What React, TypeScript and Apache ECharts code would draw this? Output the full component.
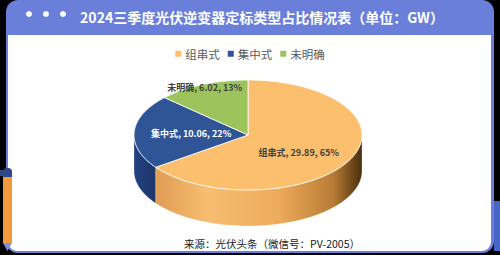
import React, { useEffect, useRef } from "react";
import * as echarts from "echarts";

const categories = ["组串式", "集中式", "未明确"];
const values = [29.89, 10.06, 6.02];
const titleText = "2024三季度光伏逆变器定标类型占比情况表（单位：GW）";
const sourceText = "来源：光伏头条（微信号：PV-2005）";

const topColors = ["#FCBF6E", "#2F5597", "#9DC35C"];
const labelColors = ["#404040", "#FFFFFF", "#404040"];
const sideStops = [
  [
    [0, "#E09C52"],
    [0.25, "#F7BE72"],
    [0.6, "#EDAA5B"],
    [0.86, "#B97C36"],
    [1, "#4A2E0C"],
  ],
  [
    [0, "#23427F"],
    [1, "#1C3669"],
  ],
  [
    [0, "#7F9F45"],
    [1, "#6A8838"],
  ],
];
const labelRadius = [0.5, 0.5, 0.95];
const labelDy = [5, 0, 0];

const CX = 248;
const CY = 135;
const RX = 114;
const RY = 55;
const DEPTH = 36;

function pt(theta: number, dy = 0): number[] {
  const r = (theta * Math.PI) / 180;
  return [CX + RX * Math.sin(r), CY - RY * Math.cos(r) + dy];
}
function arc(a: number, b: number, dy = 0): number[][] {
  const pts: number[][] = [];
  const n = Math.max(2, Math.ceil(Math.abs(b - a) / 2));
  for (let i = 0; i <= n; i++) pts.push(pt(a + ((b - a) * i) / n, dy));
  return pts;
}

const total = values.reduce((s, v) => s + v, 0);
const starts: number[] = [];
const ends: number[] = [];
{
  let acc = 0;
  values.forEach((v) => {
    starts.push((acc / total) * 360);
    acc += v;
    ends.push((acc / total) * 360);
  });
}

export default function App() {
  const ref = useRef<HTMLDivElement>(null);
  useEffect(() => {
    document.body.style.margin = "0";
    document.body.style.background = "#000";
    const chart = echarts.init(ref.current!, null, { renderer: "svg" });
    const option: any = {
      animation: false,
      backgroundColor: "#000",
      graphic: [
        {
          type: "rect",
          z: 0,
          shape: { x: 6, y: 0, width: 488, height: 253, r: 12 },
          style: { fill: "#6A7FDA" },
        },
        {
          type: "rect",
          z: 0,
          shape: { x: 8, y: 35, width: 483, height: 216, r: [0, 0, 9, 9] },
          style: { fill: "#FFFFFF" },
        },
        { type: "circle", z: 1, shape: { cx: 29, cy: 14, r: 3 }, style: { fill: "#fff" } },
        { type: "circle", z: 1, shape: { cx: 46, cy: 14, r: 3 }, style: { fill: "#fff" } },
        { type: "circle", z: 1, shape: { cx: 63, cy: 14, r: 3 }, style: { fill: "#fff" } },
        {
          type: "text",
          z: 1,
          x: 262,
          y: 17,
          style: {
            text: titleText,
            fill: "#FFFFFF",
            font: "bold 14px 'Noto Sans CJK SC', sans-serif",
            align: "center",
            verticalAlign: "middle",
          },
        },
        {
          type: "text",
          z: 1,
          x: 272,
          y: 243,
          style: {
            text: sourceText,
            fill: "#1A1A1A",
            font: "10.5px 'Noto Sans CJK SC', sans-serif",
            align: "center",
            verticalAlign: "middle",
          },
        },
        // pencil
        { type: "rect", z: 5, shape: { x: 0, y: 170, width: 4, height: 6 }, style: { fill: "#2F4687" } },
        { type: "rect", z: 5, shape: { x: 3, y: 168, width: 9, height: 10, r: [4, 4, 0, 0] }, style: { fill: "#2F4687" } },
        { type: "rect", z: 5, shape: { x: 3, y: 177, width: 9, height: 66 }, style: { fill: "#F39A3C" } },
        { type: "polygon", z: 5, shape: { points: [[3, 243], [12, 243], [7.5, 251]] }, style: { fill: "#7D8FE0" } },
        // right tab
        { type: "rect", z: 5, shape: { x: 494, y: 201, width: 6, height: 50 }, style: { fill: "#4566C4" } },
      ],
      legend: {
        top: 43,
        left: "center",
        icon: "rect",
        itemWidth: 6,
        itemHeight: 6,
        itemGap: 8,
        textStyle: { fontSize: 11.5, color: "#595959", fontFamily: "'Noto Sans CJK SC', sans-serif", padding: [0, 0, 0, -1] },
        data: categories,
        selectedMode: false,
      },
      series: [
        {
          type: "pie",
          radius: [0, 0],
          center: [-50, -50],
          silent: true,
          label: { show: false },
          data: categories.map((c, i) => ({ name: c, value: values[i], itemStyle: { color: topColors[i] } })),
        },
        {
          type: "custom",
          coordinateSystem: "none",
          z: 2,
          silent: true,
          data: values,
          renderItem: (params: any) => {
            const i = params.dataIndex;
            const a = Math.max(starts[i], 90);
            const b = Math.min(ends[i], 270);
            if (a >= b) return { type: "group", children: [] };
            const pts = arc(a, b).concat(arc(b, a, DEPTH));
            return {
              type: "polygon",
              shape: { points: pts },
              style: {
                fill: new echarts.graphic.LinearGradient(
                  0,
                  0,
                  1,
                  0,
                  sideStops[i].map((s: any) => ({ offset: s[0], color: s[1] }))
                ),
                stroke: "rgba(255,255,255,0.5)",
                lineWidth: 0.6,
              },
            };
          },
        },
        {
          type: "custom",
          coordinateSystem: "none",
          z: 3,
          silent: true,
          data: values,
          renderItem: (params: any) => {
            const i = params.dataIndex;
            const pts = [[CX, CY]].concat(arc(starts[i], ends[i]));
            const mid = (starts[i] + ends[i]) / 2;
            const r = (mid * Math.PI) / 180;
            const f = labelRadius[i];
            const lx = CX + RX * f * Math.sin(r);
            const ly = CY - RY * f * Math.cos(r) + labelDy[i];
            const pct = Math.round((values[i] / total) * 100);
            return {
              type: "group",
              children: [
                {
                  type: "polygon",
                  shape: { points: pts },
                  style: { fill: topColors[i], stroke: "#FFFFFF", lineWidth: 0.8 },
                },
                {
                  type: "text",
                  x: lx,
                  y: ly,
                  z2: 10,
                  style: {
                    text: `${categories[i]}, ${values[i].toFixed(2)}, ${pct}%`,
                    fill: labelColors[i],
                    font: "bold 9px 'Noto Sans CJK SC', sans-serif",
                    align: "center",
                    verticalAlign: "middle",
                  },
                },
              ],
            };
          },
        },
      ],
    };
    chart.setOption(option);
    return () => chart.dispose();
  }, []);
  return <div ref={ref} style={{ width: 500, height: 255 }} />;
}
